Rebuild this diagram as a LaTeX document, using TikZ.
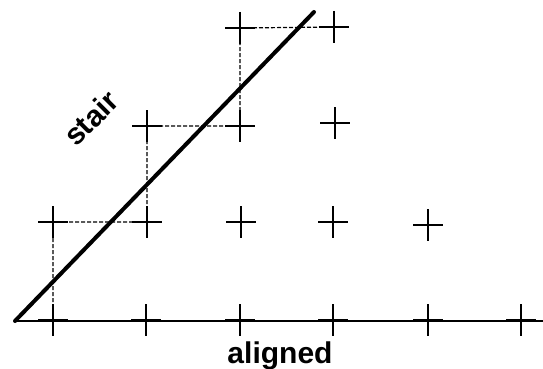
\documentclass[tikz,border=0pt]{standalone}
\usepackage{fontspec}
\setmainfont{Liberation Sans}
\begin{document}
\begin{tikzpicture}[x=1pt,y=-1pt,
  crossline/.style={line width=2.4pt},
  pics/plus/.style={code={\draw[crossline] (-15,0)--(15,0) (0,-16)--(0,16);}},
  stairline/.style={line width=4pt,line cap=round},
  axisline/.style={line width=1.8pt},
  stepline/.style={line width=1.2pt,dash pattern=on 4pt off 2pt},
  lbl/.style={font=\bfseries\fontsize{30}{36}\selectfont,inner sep=0pt}]
\useasboundingbox (0,0) rectangle (543,369);
% grid points
\coordinate (a1) at (53,320);
\coordinate (a2) at (146,320);
\coordinate (a3) at (240,320);
\coordinate (a4) at (333,320);
\coordinate (a5) at (428,320);
\coordinate (a6) at (521,320);
\coordinate (b1) at (53,222);
\coordinate (b2) at (147,222);
\coordinate (b3) at (241,222);
\coordinate (b4) at (333,222);
\coordinate (b5) at (428,225);
\coordinate (c2) at (147,126);
\coordinate (c3) at (240,126);
\coordinate (c4) at (335,123);
\coordinate (d3) at (240,28);
\coordinate (d4) at (334,27);
\coordinate (s0) at (15,321);
\coordinate (s1) at (314,12);
\coordinate (e0) at (543,321);
% axis
\draw[axisline] (s0) -- (e0);
% stair steps
\draw[stepline] (a1) -- (b1) -- (b2) -- (c2) -- (c3) -- (d3) -- (d4);
% crosses
\foreach \p in {a1,a2,a3,a4,a5,a6,b1,b2,b3,b4,b5,c2,c3,c4,d3,d4}
  \pic at (\p) {plus};
% stair line
\draw[stairline] (s0) -- (s1);
% labels
\node[lbl,anchor=base] (al) at (280,363) {aligned};
\node[lbl,rotate=45] (st) at (91,118) {stair};
\end{tikzpicture}
\end{document}
